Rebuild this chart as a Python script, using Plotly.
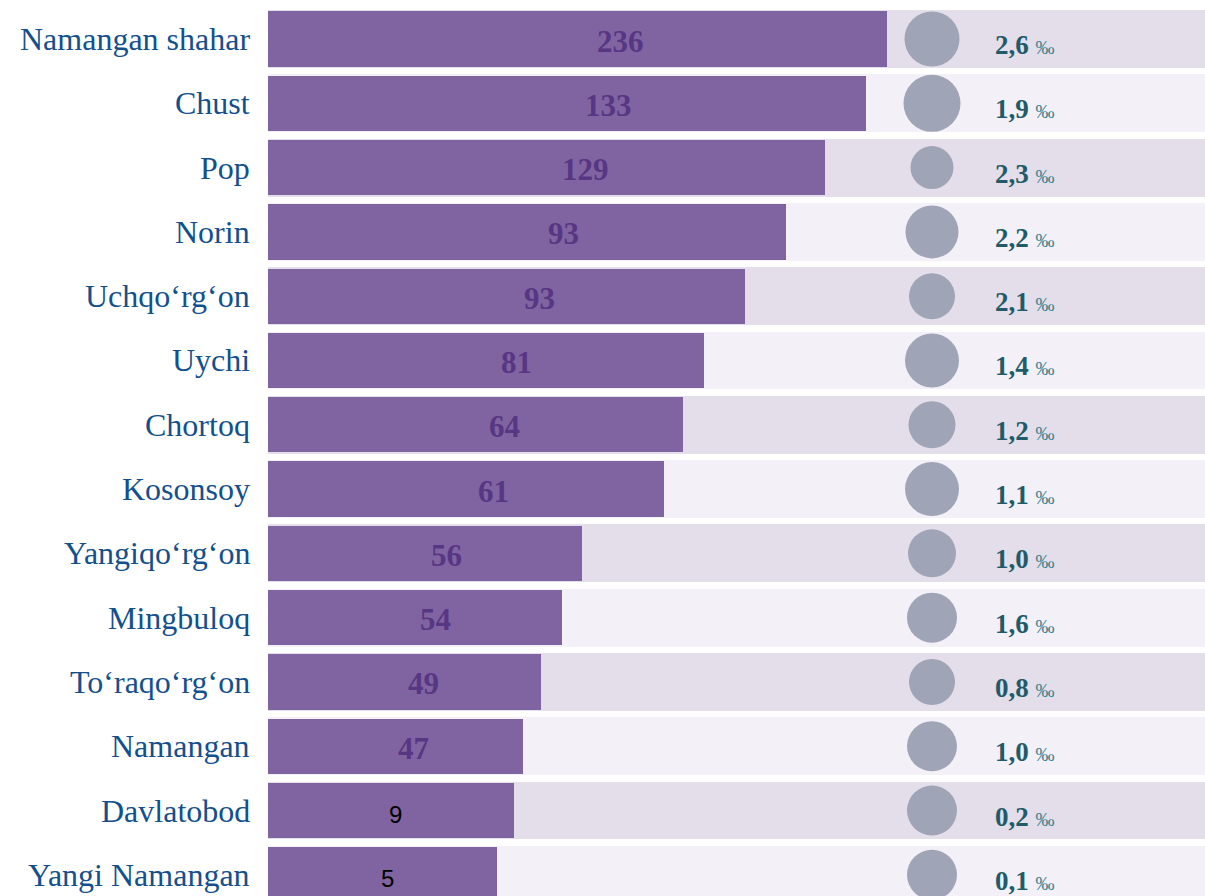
import plotly.graph_objects as go

# ---- data ----
districts = ["Namangan shahar", "Chust", "Pop", "Norin", "Uchqo‘rg‘on", "Uychi",
             "Chortoq", "Kosonsoy", "Yangiqo‘rg‘on", "Mingbuloq", "To‘raqo‘rg‘on",
             "Namangan", "Davlatobod", "Yangi Namangan"]
values = [236, 133, 129, 93, 93, 81, 64, 61, 56, 54, 49, 47, 9, 5]
# drawn bar extents (as they appear in the infographic, not proportional to values)
bar_length = [619, 598, 557, 518, 477, 436, 415, 396, 314, 294, 273, 255, 246, 229]
per_mille = ["2,6", "1,9", "2,3", "2,2", "2,1", "1,4", "1,2", "1,1", "1,0", "1,6",
             "0,8", "1,0", "0,2", "0,1"]
bubble_size = [55, 57, 43, 53, 46, 54, 47, 54, 48, 50, 46, 50, 50, 50]
plain_label = [False] * 12 + [True] * 2

# ---- style ----
SERIF = "Liberation Serif, Times New Roman, serif"
BAR = "#8064A2"
BAND_DARK = "#E3DEEA"
BAND_LIGHT = "#F3F0F7"
CIRCLE = "#A0A4B7"
LABEL_BLUE = "#13508C"
VAL_PURPLE = "#573683"
PM_DARK = "#1F5B69"
PM_LIGHT = "#3C8290"

n = len(districts)
ypos = list(range(n))
XMAX = 937

fig = go.Figure()

# background bands
fig.add_trace(go.Bar(
    y=ypos, x=[XMAX] * n, orientation="h", width=0.9,
    marker=dict(color=[BAND_DARK if i % 2 == 0 else BAND_LIGHT for i in range(n)],
                line=dict(width=0)),
    hoverinfo="skip", showlegend=False))

# bars
fig.add_trace(go.Bar(
    y=ypos, x=bar_length, orientation="h", width=0.86,
    marker=dict(color=BAR, line=dict(width=0)),
    hoverinfo="skip", showlegend=False))

# circles
fig.add_trace(go.Scatter(
    y=ypos, x=[664] * n, mode="markers",
    marker=dict(size=bubble_size, color=CIRCLE, opacity=1, line=dict(width=0)),
    hoverinfo="skip", showlegend=False))

annotations = []
for i in range(n):
    # district names
    annotations.append(dict(
        x=0, y=i, xref="paper", yref="y", xanchor="right", yanchor="middle",
        xshift=-16, text=districts[i], showarrow=False,
        font=dict(family=SERIF, size=32, color=LABEL_BLUE)))
    # value labels in bars
    if plain_label[i]:
        annotations.append(dict(
            x=bar_length[i] * 0.52, y=i, xref="x", yref="y", yshift=-4,
            text=str(values[i]), showarrow=False,
            font=dict(family="Liberation Sans, Arial, sans-serif", size=24, color="#000000")))
    else:
        annotations.append(dict(
            x=bar_length[i] * 0.57, y=i, xref="x", yref="y", yshift=-2,
            text="<b>%d</b>" % values[i], showarrow=False,
            font=dict(family=SERIF, size=31, color=VAL_PURPLE)))
    # per-mille labels
    annotations.append(dict(
        x=725, y=i, xref="x", yref="y", xanchor="left", yanchor="middle", yshift=-6,
        text="<b>%s</b> <span style='font-size:19px;color:%s'>‰</span>" % (per_mille[i], PM_LIGHT),
        showarrow=False,
        font=dict(family=SERIF, size=27, color=PM_DARK)))

fig.update_layout(
    width=1205, height=896,
    margin=dict(l=268, r=0, t=0, b=0),
    paper_bgcolor="white", plot_bgcolor="white",
    barmode="overlay", bargap=0,
    xaxis=dict(range=[0, XMAX], visible=False, fixedrange=True),
    yaxis=dict(range=[13.33, -0.607], visible=False, fixedrange=True),
    annotations=annotations,
    showlegend=False,
)

fig.write_html("out.html", config={"displayModeBar": False},
               post_script="document.body.style.margin='0';document.body.style.overflow='hidden';")
